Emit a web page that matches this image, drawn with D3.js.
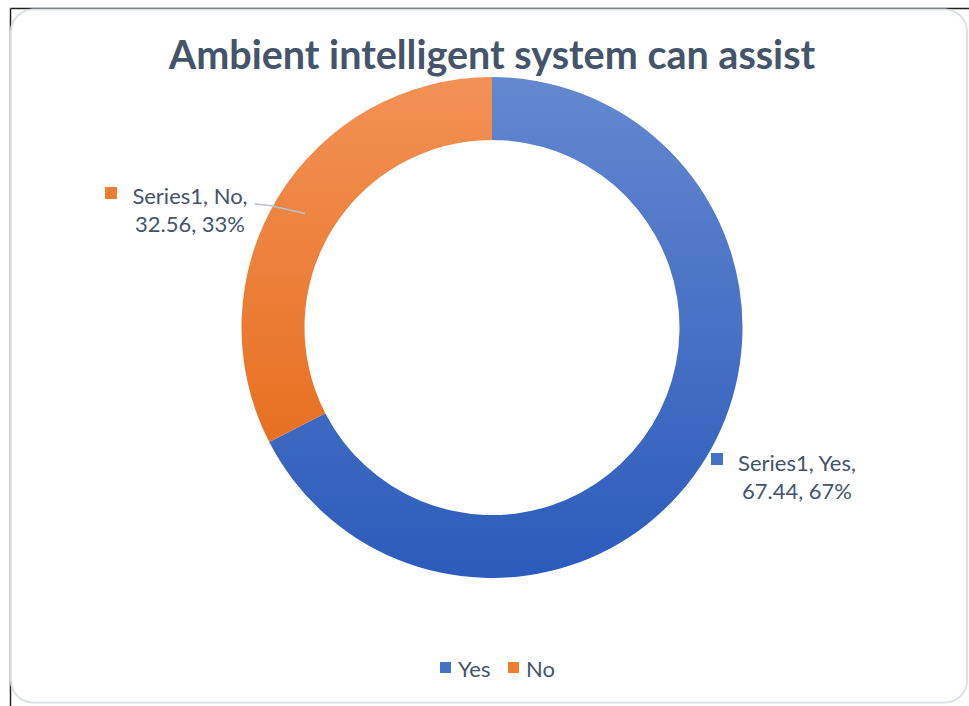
<!DOCTYPE html>
<html>
<head>
<meta charset="utf-8">
<script src="https://cdn.jsdelivr.net/npm/d3@7"></script>
<style>
  html, body { margin: 0; padding: 0; background: #fff; }
  svg { display: block; }
  text { font-family: Lato, "Open Sans", sans-serif; }
</style>
</head>
<body>
<svg id="chart" width="969" height="706"></svg>
<script>
const categories = ["Yes", "No"];
const values = [67.44, 32.56];
const percentLabels = ["67%", "33%"];
const seriesName = "Series1";
const title = "Ambient intelligent system can assist";

const svg = d3.select("#chart");
const W = 969, H = 706;

// frame
svg.append("line").attr("x1", 10.5).attr("y1", 8.5).attr("x2", W).attr("y2", 8.5).attr("stroke", "#222").attr("stroke-width", 1.5);
svg.append("line").attr("x1", 10.5).attr("y1", 8.5).attr("x2", 10.5).attr("y2", H).attr("stroke", "#222").attr("stroke-width", 1.5);
svg.append("rect").attr("x", 11).attr("y", 9.5).attr("width", 956).attr("height", 693).attr("rx", 22)
  .attr("fill", "#fff").attr("stroke", "#dde1e6").attr("stroke-width", 2);

const defs = svg.append("defs");
const grads = [
  {id: "gYes", top: "#6487cf", bottom: "#2b5bbb"},
  {id: "gNo", top: "#f39155", bottom: "#e2640e"}
];
const cx = 492, cy = 327.5, R = 250.5, r = 187.5;
grads.forEach(g => {
  const lg = defs.append("linearGradient").attr("id", g.id)
    .attr("gradientUnits", "userSpaceOnUse")
    .attr("x1", 0).attr("y1", -R).attr("x2", 0).attr("y2", R);
  lg.append("stop").attr("offset", "0%").attr("stop-color", g.top);
  lg.append("stop").attr("offset", "100%").attr("stop-color", g.bottom);
});
const color = d3.scaleOrdinal().domain(categories).range(["url(#gYes)", "url(#gNo)"]);
const solid = d3.scaleOrdinal().domain(categories).range(["#4472c4", "#ed7d31"]);

// title
svg.append("text").attr("x", 492).attr("y", 69).attr("text-anchor", "middle")
  .attr("font-size", 39.5).attr("font-weight", "bold").attr("fill", "#44546a").text(title);

const pie = d3.pie().sort(null).value(d => d.v);
const data = categories.map((c, i) => ({c, v: values[i], p: percentLabels[i]}));
const arcs = pie(data);
const arc = d3.arc().innerRadius(r).outerRadius(R);

const g = svg.append("g").attr("transform", `translate(${cx},${cy})`);
g.selectAll("path").data(arcs).join("path")
  .attr("d", arc).attr("fill", d => color(d.data.c));

// leader line for No label
svg.append("polyline").attr("points", "255,204 270,205.5 305,213.5")
  .attr("fill", "none").attr("stroke", "#b8c2cf").attr("stroke-width", 1.5);

const labelPos = {
  Yes: {mx: 711, my: 453, lx: 797, ly1: 471, ly2: 499},
  No: {mx: 105, my: 187, lx: 190, ly1: 204, ly2: 232}
};
arcs.forEach(a => {
  const p = labelPos[a.data.c];
  const l1 = `${seriesName}, ${a.data.c},`;
  const l2 = `${a.data.v}, ${a.data.p}`;
  svg.append("text").attr("x", p.lx).attr("y", p.ly1).attr("text-anchor", "middle")
    .attr("font-size", 22).attr("fill", "#44546a").text(l1);
  svg.append("text").attr("x", p.lx).attr("y", p.ly2).attr("text-anchor", "middle")
    .attr("font-size", 22).attr("fill", "#44546a").text(l2);
  svg.append("rect").attr("x", p.mx).attr("y", p.my).attr("width", 12).attr("height", 12)
    .attr("fill", solid(a.data.c));
});

// legend
const legendX = [440, 508];
categories.forEach((c, i) => {
  svg.append("rect").attr("x", legendX[i]).attr("y", 662).attr("width", 11).attr("height", 11)
    .attr("fill", solid(c));
  svg.append("text").attr("x", legendX[i] + 18).attr("y", 677).attr("font-size", 22)
    .attr("fill", "#44546a").text(c);
});
</script>
</body>
</html>
